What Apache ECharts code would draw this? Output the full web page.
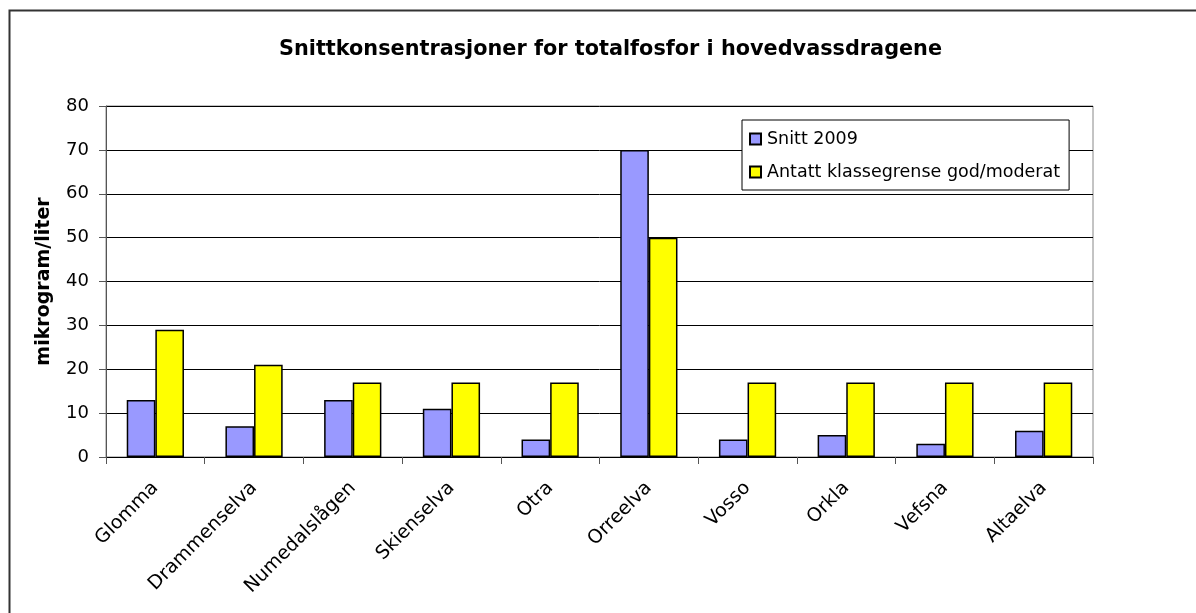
<!DOCTYPE html>
<html><head><meta charset="utf-8">
<script src="https://cdn.jsdelivr.net/npm/echarts@6/dist/echarts.min.js"></script>
<style>html,body{margin:0;padding:0;background:#fff}#c{width:1196px;height:613px}</style>
</head><body><div id="c"></div>
<script>
var categories = ['Glomma','Drammenselva','Numedalslågen','Skienselva','Otra','Orreelva','Vosso','Orkla','Vefsna','Altaelva'];
var snitt2009 = [13,7,13,11,4,70,4,5,3,6];
var klassegrense = [29,21,17,17,17,50,17,17,17,17];
var yTicks = [0,10,20,30,40,50,60,70,80];

var chart = echarts.init(document.getElementById('c'), null, {renderer:'canvas'});
var font = '"DejaVu Sans", Arial, sans-serif';
chart.setOption({
  animation:false,
  backgroundColor:'#fff',
  title:{text:'Snittkonsentrasjoner for totalfosfor i hovedvassdragene', left:274, top:34,
    textStyle:{fontFamily:font, fontSize:20.8, fontWeight:'bold', color:'#000'}},
  graphic:[{type:'rect', shape:{x:9.5,y:10.5,width:1200,height:700}, style:{fill:null, stroke:'#333', lineWidth:2}, silent:true}],
  legend:{orient:'vertical', left:742, top:120, padding:[10,9,9,7], itemGap:15,
    borderColor:'#000', borderWidth:1, backgroundColor:'#fff', itemWidth:11, itemHeight:11,
    icon:'rect', textStyle:{fontFamily:font, fontSize:17.5, color:'#000', padding:[0,0,0,1]},
    data:['Snitt 2009','Antatt klassegrense god/moderat']},
  grid:{left:106, right:103, top:106, bottom:156, show:true, borderColor:'#888', borderWidth:1, backgroundColor:'transparent'},
  xAxis:{type:'category', data:categories,
    axisLine:{lineStyle:{color:'#000', width:1}},
    axisTick:{show:true, length:7, lineStyle:{color:'#555'}},
    axisLabel:{rotate:45, fontFamily:font, fontSize:19, color:'#000', margin:28, interval:0}},
  yAxis:{type:'value', min:0, max:80, interval:10,
    name:'mikrogram/liter', nameLocation:'middle', nameGap:52, nameRotate:90,
    nameTextStyle:{fontFamily:font, fontSize:19, fontWeight:'bold', color:'#000'},
    axisLine:{show:true, lineStyle:{color:'#555'}},
    axisTick:{show:true, length:7, lineStyle:{color:'#555'}},
    axisLabel:{fontFamily:font, fontSize:18, color:'#000', margin:17,
      formatter:function(v){return yTicks.indexOf(v)>=0?String(v):'';}},
    splitLine:{show:true, lineStyle:{color:'#000', width:1}}},
  series:[
    {name:'Snitt 2009', type:'bar', data:snitt2009, barGap:'0%', barCategoryGap:'42%',
      itemStyle:{color:'#9999FF', borderColor:'#000', borderWidth:1.5}},
    {name:'Antatt klassegrense god/moderat', type:'bar', data:klassegrense,
      itemStyle:{color:'#FFFF00', borderColor:'#000', borderWidth:1.5}}
  ]
});
</script></body></html>
